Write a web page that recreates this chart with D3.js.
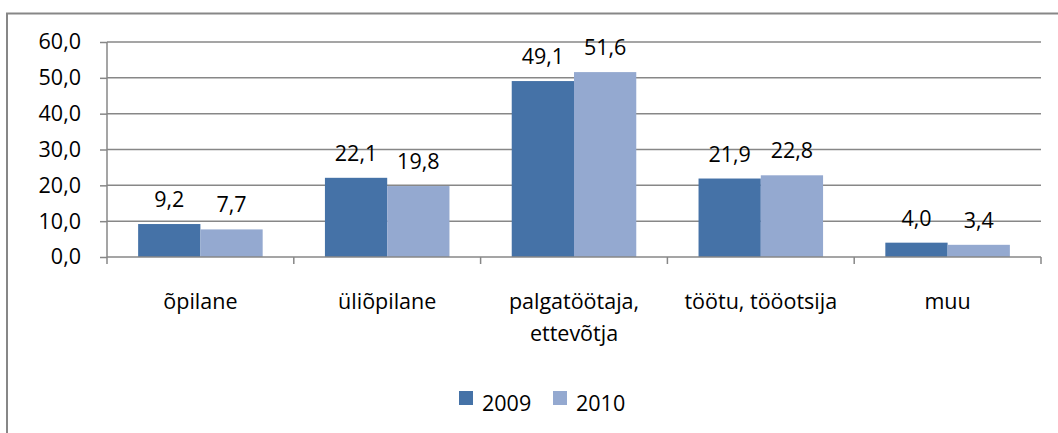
<!DOCTYPE html>
<html>
<head>
<meta charset="utf-8">
<script src="https://cdn.jsdelivr.net/npm/d3@7"></script>
<style>
  body { margin: 0; background: #fff; }
  svg text { font-family: "Open Sans", sans-serif; fill: #000; }
</style>
</head>
<body>
<svg width="1058" height="433"></svg>
<script>
// Data
const categories = ["õpilane", "üliõpilane", "palgatöötaja, ettevõtja", "töötu, tööotsija", "muu"];
const series = ["2009", "2010"];
const values2009 = [9.2, 22.1, 49.1, 21.9, 4.0];
const values2010 = [7.7, 19.8, 51.6, 22.8, 3.4];
const yTicks = [0, 10, 20, 30, 40, 50, 60];

const colors = { "2009": "#4572a7", "2010": "#94a9d0" };
const grey = "#878787";
const fontSize = 21.5;

const svg = d3.select("svg");

// outer chart border
svg.append("rect")
    .attr("x", 7).attr("y", 13.5)
    .attr("width", 1070).attr("height", 440)
    .attr("fill", "none")
    .attr("stroke", grey)
    .attr("stroke-width", 2);

const plotLeft = 107, plotRight = 1041, plotTop = 42, plotBottom = 257;

const x0 = d3.scaleBand().domain(categories).range([plotLeft, plotRight]).paddingInner(0).paddingOuter(0);
const bw = x0.bandwidth();
const x1 = d3.scaleBand().domain(series).range([bw / 6, bw * 5 / 6]);
const y = d3.scaleLinear().domain([0, 60]).range([plotBottom, plotTop]);

const locale = d3.formatLocale({ decimal: ",", thousands: " ", grouping: [3], currency: ["", ""] });
const fmt = locale.format(".1f");

// gridlines
svg.append("g").selectAll("line")
  .data(yTicks.filter(d => d > 0))
  .join("line")
    .attr("x1", plotLeft).attr("x2", plotRight)
    .attr("y1", d => y(d)).attr("y2", d => y(d))
    .attr("stroke", grey).attr("stroke-width", 1.5);

// y axis
const yAxis = svg.append("g")
    .attr("transform", `translate(${plotLeft},0)`)
    .call(d3.axisLeft(y).tickValues(yTicks).tickFormat(fmt).tickSize(7).tickPadding(19));
yAxis.select(".domain").attr("stroke", grey).attr("stroke-width", 1.5).attr("d", `M0,${plotTop}V${plotBottom}`);
yAxis.selectAll(".tick line").attr("stroke", grey).attr("stroke-width", 1.5);
yAxis.selectAll(".tick text")
    .style("font-size", fontSize + "px")
    .attr("fill", "#000");

// bars
const rows = categories.map((c, i) => ({ cat: c, vals: [values2009[i], values2010[i]] }));

const groups = svg.append("g").selectAll("g")
  .data(rows)
  .join("g")
    .attr("transform", d => `translate(${x0(d.cat)},0)`);

groups.selectAll("rect")
  .data(d => d.vals.map((v, j) => ({ key: series[j], v: v })))
  .join("rect")
    .attr("x", d => x1(d.key))
    .attr("y", d => y(d.v))
    .attr("width", x1.bandwidth())
    .attr("height", d => y(0) - y(d.v))
    .attr("fill", d => colors[d.key]);

groups.selectAll("text.lbl")
  .data(d => d.vals.map((v, j) => ({ key: series[j], v: v })))
  .join("text")
    .attr("class", "lbl")
    .attr("x", d => x1(d.key) + x1.bandwidth() / 2)
    .attr("y", d => y(d.v) - 17)
    .attr("text-anchor", "middle")
    .style("font-size", fontSize + "px")
    .text(d => fmt(d.v));

// x axis
const xAxis = svg.append("g");
xAxis.append("line")
    .attr("x1", plotLeft).attr("x2", plotRight)
    .attr("y1", plotBottom).attr("y2", plotBottom)
    .attr("stroke", grey).attr("stroke-width", 1.5);
xAxis.selectAll("line.tick")
  .data(categories.map(c => x0(c)).concat([plotRight]))
  .join("line")
    .attr("class", "tick")
    .attr("x1", d => d).attr("x2", d => d)
    .attr("y1", plotBottom).attr("y2", plotBottom + 7)
    .attr("stroke", grey).attr("stroke-width", 1.5);

// category labels (wrap at the comma like the original)
const catText = svg.append("g").selectAll("text")
  .data(categories)
  .join("text")
    .attr("text-anchor", "middle")
    .attr("x", d => x0(d) + bw / 2)
    .attr("y", 309)
    .style("font-size", fontSize + "px");

catText.each(function (d) {
  const parts = d.startsWith("palgatöötaja") ? ["palgatöötaja,", "ettevõtja"] : [d];
  const t = d3.select(this);
  parts.forEach((p, i) => {
    t.append("tspan")
      .attr("x", x0(d) + bw / 2)
      .attr("dy", i === 0 ? 0 : 32)
      .text(p);
  });
});

// legend
const legendItems = [
  { key: "2009", x: 459 },
  { key: "2010", x: 553 }
];
const legend = svg.append("g").selectAll("g")
  .data(legendItems)
  .join("g")
    .attr("transform", d => `translate(${d.x},391)`);
legend.append("rect")
    .attr("width", 14).attr("height", 14)
    .attr("fill", d => colors[d.key]);
legend.append("text")
    .attr("x", 23).attr("y", 20)
    .style("font-size", fontSize + "px")
    .text(d => d.key);
</script>
</body>
</html>
